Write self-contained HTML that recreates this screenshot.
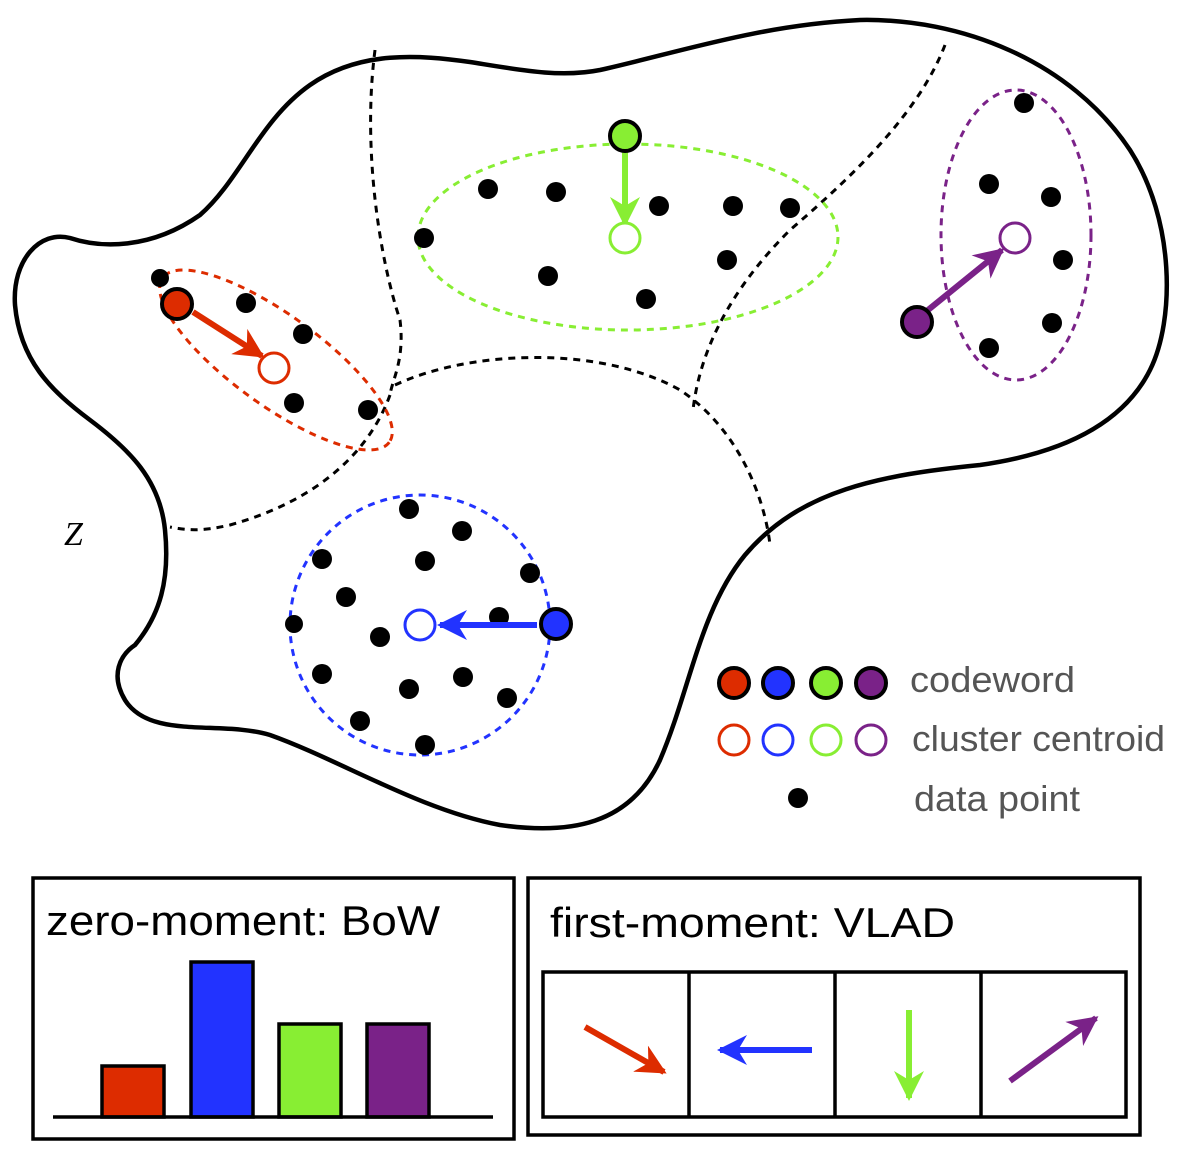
<!DOCTYPE html>
<html><head><style>body{margin:0;background:#fff}svg{display:block}</style></head><body>
<svg width="1181" height="1158" viewBox="0 0 1181 1158" xmlns="http://www.w3.org/2000/svg" font-family="Liberation Sans, sans-serif">
<defs>
<marker id="ar" viewBox="0 0 10 10" refX="9" refY="5" markerWidth="5.5" markerHeight="5" orient="auto"><path d="M0,0 L10,5 L0,10 L3,5z" fill="#dd2c00"/></marker>
<marker id="ab" viewBox="0 0 10 10" refX="9" refY="5" markerWidth="5.5" markerHeight="5" orient="auto"><path d="M0,0 L10,5 L0,10 L3,5z" fill="#2233ff"/></marker>
<marker id="ag" viewBox="0 0 10 10" refX="9" refY="5" markerWidth="5.5" markerHeight="5" orient="auto"><path d="M0,0 L10,5 L0,10 L3,5z" fill="#88ee33"/></marker>
<marker id="ap" viewBox="0 0 10 10" refX="9" refY="5" markerWidth="5.5" markerHeight="5" orient="auto"><path d="M0,0 L10,5 L0,10 L3,5z" fill="#7a2288"/></marker>
</defs>
<path d="M70,238 C100,248 150,250 200,215 C240,180 260,120 310,85 C360,50 420,55 470,62 C520,70 560,78 600,70 C680,52 760,25 860,20 C960,18 1070,60 1130,150 C1175,220 1175,320 1150,370 C1120,430 1050,455 980,465 C880,475 800,490 745,555 C700,610 690,690 660,760 C630,825 570,835 500,825 C420,810 340,760 270,735 C220,720 150,740 125,700 C110,675 120,655 135,645 C160,615 170,580 165,530 C160,480 130,450 90,420 C50,390 20,360 15,305 C12,260 40,230 70,238 Z" fill="none" stroke="#000" stroke-width="4.5"/>
<g fill="none" stroke="#000" stroke-width="3" stroke-dasharray="7,6">
<path d="M375,50 C362,150 380,260 400,320 C405,360 392,380 390,395"/>
<path d="M390,395 C370,450 320,500 230,525 C200,532 185,530 170,527"/>
<path d="M395,385 C470,350 600,345 680,390 C740,430 765,500 770,545"/>
<path d="M945,45 C920,110 860,170 790,230 C730,290 700,350 693,410"/>
</g>
<ellipse cx="276" cy="360" rx="140" ry="45" transform="rotate(36 276 360)" fill="none" stroke="#dd2c00" stroke-width="3" stroke-dasharray="7,6"/>
<ellipse cx="628" cy="237" rx="210" ry="93" fill="none" stroke="#88ee33" stroke-width="3" stroke-dasharray="7,6"/>
<ellipse cx="1016" cy="235" rx="75" ry="145" fill="none" stroke="#7a2288" stroke-width="3" stroke-dasharray="7,6"/>
<circle cx="420" cy="625" r="130" fill="none" stroke="#2233ff" stroke-width="3" stroke-dasharray="7,6"/>
<g fill="#000">
<circle cx="160" cy="278" r="9"/><circle cx="246" cy="303" r="10"/><circle cx="303" cy="334" r="10"/><circle cx="294" cy="403" r="10"/><circle cx="368" cy="410" r="10"/>
<circle cx="488" cy="189" r="10"/><circle cx="556" cy="192" r="10"/><circle cx="424" cy="238" r="10"/><circle cx="548" cy="276" r="10"/><circle cx="646" cy="299" r="10"/><circle cx="659" cy="206" r="10"/><circle cx="733" cy="206" r="10"/><circle cx="790" cy="208" r="10"/><circle cx="727" cy="260" r="10"/>
<circle cx="1024" cy="103" r="10"/><circle cx="989" cy="184" r="10"/><circle cx="1051" cy="197" r="10"/><circle cx="1063" cy="260" r="10"/><circle cx="1052" cy="323" r="10"/><circle cx="989" cy="348" r="10"/>
<circle cx="409" cy="509" r="10"/><circle cx="462" cy="531" r="10"/><circle cx="322" cy="559" r="10"/><circle cx="425" cy="561" r="10"/><circle cx="530" cy="573" r="10"/><circle cx="346" cy="597" r="10"/><circle cx="294" cy="624" r="9"/><circle cx="380" cy="637" r="10"/><circle cx="499" cy="617" r="10"/><circle cx="322" cy="674" r="10"/><circle cx="463" cy="677" r="10"/><circle cx="409" cy="689" r="10"/><circle cx="507" cy="698" r="10"/><circle cx="360" cy="721" r="10"/><circle cx="425" cy="745" r="10"/>
<circle cx="798" cy="798" r="10"/>
</g>
<g stroke-width="6" fill="none">
<line x1="193" y1="312" x2="262" y2="356" stroke="#dd2c00" marker-end="url(#ar)"/>
<line x1="537" y1="625" x2="440" y2="625" stroke="#2233ff" marker-end="url(#ab)"/>
<line x1="625" y1="150" x2="625" y2="224" stroke="#88ee33" marker-end="url(#ag)"/>
<line x1="928" y1="310" x2="1002" y2="250" stroke="#7a2288" marker-end="url(#ap)"/>
</g>
<g stroke="#000" stroke-width="4">
<circle cx="177" cy="304" r="15" fill="#dd2c00"/><circle cx="556" cy="624" r="15" fill="#2233ff"/><circle cx="625" cy="136" r="15" fill="#88ee33"/><circle cx="917" cy="322" r="15" fill="#7a2288"/>
<circle cx="734" cy="683" r="15" fill="#dd2c00"/><circle cx="778" cy="683" r="15" fill="#2233ff"/><circle cx="826" cy="683" r="15" fill="#88ee33"/><circle cx="871" cy="683" r="15" fill="#7a2288"/>
</g>
<g fill="#fff" stroke-width="3">
<circle cx="274" cy="368" r="15" stroke="#dd2c00"/><circle cx="420" cy="625" r="15" stroke="#2233ff"/><circle cx="625" cy="238" r="15" stroke="#88ee33"/><circle cx="1015" cy="238" r="15" stroke="#7a2288"/>
<circle cx="734" cy="740" r="15" stroke="#dd2c00"/><circle cx="778" cy="740" r="15" stroke="#2233ff"/><circle cx="826" cy="740" r="15" stroke="#88ee33"/><circle cx="871" cy="740" r="15" stroke="#7a2288"/>
</g>
<g font-size="36" fill="#555">
<text x="910" y="692" textLength="165" lengthAdjust="spacingAndGlyphs">codeword</text><text x="912" y="751" textLength="253" lengthAdjust="spacingAndGlyphs">cluster centroid</text><text x="914" y="811" textLength="166" lengthAdjust="spacingAndGlyphs">data point</text>
</g>
<text x="64" y="545" font-size="34" font-family="Liberation Serif, serif" font-style="italic">Z</text>
<rect x="33" y="878" width="481" height="261" fill="none" stroke="#000" stroke-width="3.5"/>
<text x="46" y="935" font-size="42" fill="#000" textLength="394" lengthAdjust="spacingAndGlyphs">zero-moment: BoW</text>
<g stroke="#000" stroke-width="3.5">
<rect x="102" y="1066" width="62" height="51" fill="#dd2c00"/>
<rect x="191" y="962" width="62" height="155" fill="#2233ff"/>
<rect x="279" y="1024" width="62" height="93" fill="#88ee33"/>
<rect x="367" y="1024" width="62" height="93" fill="#7a2288"/>
<line x1="53" y1="1117" x2="493" y2="1117"/>
</g>
<rect x="528" y="878" width="612" height="257" fill="none" stroke="#000" stroke-width="3.5"/>
<text x="550" y="937" font-size="42" fill="#000" textLength="405" lengthAdjust="spacingAndGlyphs">first-moment:  VLAD</text>
<g fill="none" stroke="#000" stroke-width="3.5">
<rect x="543" y="972" width="583" height="145"/>
<line x1="689" y1="972" x2="689" y2="1117"/><line x1="835" y1="972" x2="835" y2="1117"/><line x1="981" y1="972" x2="981" y2="1117"/>
</g>
<g stroke-width="6" fill="none">
<line x1="585" y1="1027" x2="664" y2="1072" stroke="#dd2c00" marker-end="url(#ar)"/>
<line x1="812" y1="1050" x2="720" y2="1050" stroke="#2233ff" marker-end="url(#ab)"/>
<line x1="909" y1="1010" x2="909" y2="1098" stroke="#88ee33" marker-end="url(#ag)"/>
<line x1="1010" y1="1081" x2="1096" y2="1018" stroke="#7a2288" marker-end="url(#ap)"/>
</g>
</svg>
</body></html>
